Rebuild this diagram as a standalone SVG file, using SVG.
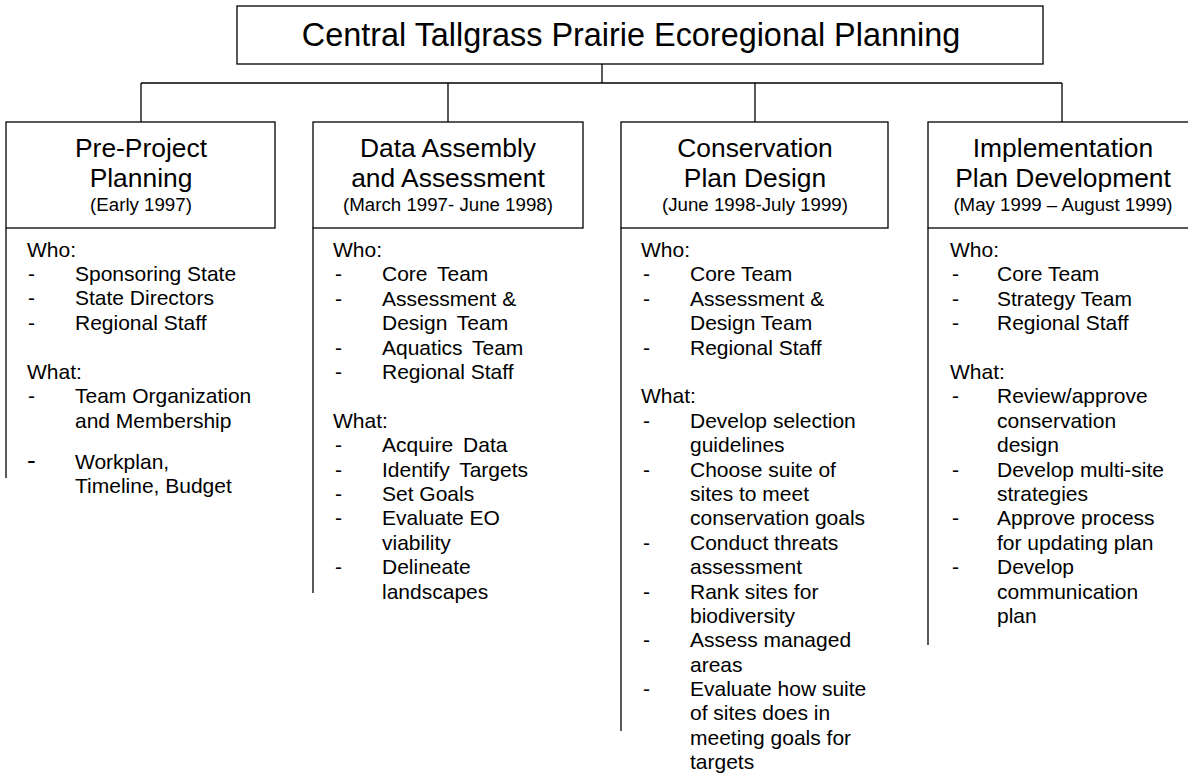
<svg xmlns="http://www.w3.org/2000/svg" width="1188" height="775" viewBox="0 0 1188 775">
  <style>
    text { font-family: "Liberation Sans", Arial, sans-serif; fill: #000; }
    .title { font-size: 32.4px; text-anchor: middle; }
    .head { font-size: 26.4px; text-anchor: middle; }
    .date { font-size: 18.7px; text-anchor: middle; }
    .body { font-size: 21px; }
    .wide { word-spacing: 4px; }
    .box { fill: #fff; stroke: #000; stroke-width: 1.3; }
    .ln { fill: none; stroke: #000; stroke-width: 1.3; }
  </style>
  <rect width="1188" height="775" fill="#fff"/>

  <!-- tree connectors -->
  <g id="connectors" class="ln">
    <path d="M602,64 V83"/>
    <path d="M141,83 H1062"/>
    <path d="M141,83 V122"/>
    <path d="M448,83 V122"/>
    <path d="M755,83 V122"/>
    <path d="M1062,83 V122"/>
  </g>

  <!-- root -->
  <g id="root">
    <rect class="box" x="237" y="6" width="806" height="58"/>
    <text class="title" x="631" y="46">Central Tallgrass Prairie Ecoregional Planning</text>
  </g>

  <!-- phase 1 -->
  <g id="pre-project">
    <rect class="box" x="6" y="122" width="269" height="106"/>
    <path class="ln" d="M6,228 V478"/>
    <text class="head" x="141" y="157">Pre-Project</text>
    <text class="head" x="141" y="187">Planning</text>
    <text class="date" x="141" y="211">(Early 1997)</text>
    <g class="body">
      <text x="27" y="257">Who:</text>
      <text x="28" y="281">-</text><text x="75" y="281">Sponsoring State</text>
      <text x="28" y="305">-</text><text x="75" y="305">State Directors</text>
      <text x="28" y="330">-</text><text x="75" y="330">Regional Staff</text>
      <text x="27" y="379">What:</text>
      <text x="28" y="403">-</text><text x="75" y="403">Team Organization</text>
      <text x="75" y="428">and Membership</text>
      <text x="27" y="469" style="font-size:26px">-</text><text x="75" y="469">Workplan,</text>
      <text x="75" y="493">Timeline, Budget</text>
    </g>
  </g>

  <!-- phase 2 -->
  <g id="data-assembly">
    <rect class="box" x="313" y="122" width="270" height="106"/>
    <path class="ln" d="M313,228 V593"/>
    <text class="head" x="448" y="157">Data Assembly</text>
    <text class="head" x="448" y="187">and Assessment</text>
    <text class="date" x="448" y="211">(March 1997- June 1998)</text>
    <g class="body">
      <text x="333" y="257">Who:</text>
      <text x="335" y="281">-</text><text class="wide" x="382" y="281">Core Team</text>
      <text x="335" y="306">-</text><text x="382" y="306">Assessment &amp;</text>
      <text class="wide" x="382" y="330">Design Team</text>
      <text x="335" y="355">-</text><text class="wide" x="382" y="355">Aquatics Team</text>
      <text x="335" y="379">-</text><text x="382" y="379">Regional Staff</text>
      <text x="333" y="428">What:</text>
      <text x="335" y="452">-</text><text class="wide" x="382" y="452">Acquire Data</text>
      <text x="335" y="477">-</text><text class="wide" x="382" y="477">Identify Targets</text>
      <text x="335" y="501">-</text><text x="382" y="501">Set Goals</text>
      <text x="335" y="525">-</text><text x="382" y="525">Evaluate EO</text>
      <text x="382" y="550">viability</text>
      <text x="335" y="574">-</text><text x="382" y="574">Delineate</text>
      <text x="382" y="599">landscapes</text>
    </g>
  </g>

  <!-- phase 3 -->
  <g id="conservation-design">
    <rect class="box" x="621" y="122" width="267" height="106"/>
    <path class="ln" d="M621,228 V731"/>
    <text class="head" x="755" y="157">Conservation</text>
    <text class="head" x="755" y="187">Plan Design</text>
    <text class="date" x="755" y="211">(June 1998-July 1999)</text>
    <g class="body">
      <text x="641" y="257">Who:</text>
      <text x="643" y="281">-</text><text x="690" y="281">Core Team</text>
      <text x="643" y="306">-</text><text x="690" y="306">Assessment &amp;</text>
      <text x="690" y="330">Design Team</text>
      <text x="643" y="355">-</text><text x="690" y="355">Regional Staff</text>
      <text x="641" y="403">What:</text>
      <text x="643" y="428">-</text><text x="690" y="428">Develop selection</text>
      <text x="690" y="452">guidelines</text>
      <text x="643" y="477">-</text><text x="690" y="477">Choose suite of</text>
      <text x="690" y="501">sites to meet</text>
      <text x="690" y="525">conservation goals</text>
      <text x="643" y="550">-</text><text x="690" y="550">Conduct threats</text>
      <text x="690" y="574">assessment</text>
      <text x="643" y="599">-</text><text x="690" y="599">Rank sites for</text>
      <text x="690" y="623">biodiversity</text>
      <text x="643" y="647">-</text><text x="690" y="647">Assess managed</text>
      <text x="690" y="672">areas</text>
      <text x="643" y="696">-</text><text x="690" y="696">Evaluate how suite</text>
      <text x="690" y="720">of sites does in</text>
      <text x="690" y="745">meeting goals for</text>
      <text x="690" y="769">targets</text>
    </g>
  </g>

  <!-- phase 4 -->
  <g id="implementation">
    <rect class="box" x="928" y="122" width="270" height="106"/>
    <path class="ln" d="M928,228 V645"/>
    <text class="head" x="1063" y="157">Implementation</text>
    <text class="head" x="1063" y="187">Plan Development</text>
    <text class="date" x="1063" y="211">(May 1999 – August 1999)</text>
    <g class="body">
      <text x="950" y="257">Who:</text>
      <text x="952" y="281">-</text><text x="997" y="281">Core Team</text>
      <text x="952" y="306">-</text><text x="997" y="306">Strategy Team</text>
      <text x="952" y="330">-</text><text x="997" y="330">Regional Staff</text>
      <text x="950" y="379">What:</text>
      <text x="952" y="403">-</text><text x="997" y="403">Review/approve</text>
      <text x="997" y="428">conservation</text>
      <text x="997" y="452">design</text>
      <text x="952" y="477">-</text><text x="997" y="477">Develop multi-site</text>
      <text x="997" y="501">strategies</text>
      <text x="952" y="525">-</text><text x="997" y="525">Approve process</text>
      <text x="997" y="550">for updating plan</text>
      <text x="952" y="574">-</text><text x="997" y="574">Develop</text>
      <text x="997" y="599">communication</text>
      <text x="997" y="623">plan</text>
    </g>
  </g>
</svg>
